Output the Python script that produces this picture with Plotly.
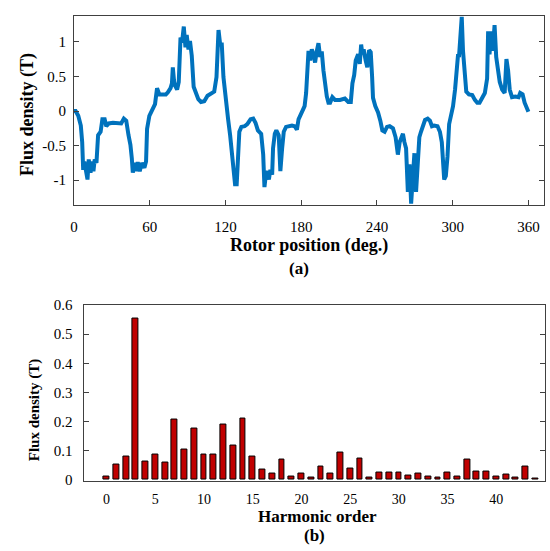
import plotly.graph_objects as go

W, H = 550, 551

# (a) air-gap flux density versus rotor position
rotor_deg = [
    0, 1.3, 3.4, 5.4, 6.5, 7.3, 8.2, 9.9, 10.7, 11.7, 13.1, 14.4, 15.4, 16.4, 17.8,
    19.1, 21.1, 22.5, 24.3, 25.6, 27.5, 30.9, 34.8, 37.4, 39.5, 41.4, 43.2, 44.7,
    45.8, 46.6, 47.9, 49.2, 50.5, 52.1, 53.7, 55.8, 57.1, 57.9, 59.7, 62.4, 64.2,
    65.8, 67.6, 70.2, 72.8, 74.4, 76.5, 77.6, 78.3, 79.2, 79.7, 81.7, 82.5, 83.0,
    84.4, 85.6, 87.0, 88.3, 89.3, 90.7, 91.9, 93.3, 94.8, 96.6, 98.5, 100.6, 103.2,
    105.8, 108.5, 111.1, 112.9, 113.7, 114.5, 115.8, 117.1, 118.4, 120.2, 122.1,
    123.7, 125.0, 126.3, 127.6, 128.9, 130.0, 131.0, 132.6, 135.2, 137.3, 139.9,
    142.0, 143.8, 145.7, 148.3, 149.9, 150.9, 152.2, 152.8, 154.4, 155.6, 157.0,
    157.7, 159.1, 160.3, 162.2, 163.5, 164.9, 166.2, 168.0, 170.1, 172.7, 174.8,
    176.6, 177.9, 180.0, 182.7, 183.9, 185.3, 185.8, 187.1, 188.4, 189.7, 191.0,
    192.4, 193.7, 195.0, 196.3, 197.6, 199.0, 200.3, 201.6, 202.9, 204.7, 206.8,
    210.7, 214.6, 217.3, 219.3, 220.6, 222.0, 223.2, 225.1, 226.4, 227.5, 228.5,
    229.5, 231.1, 232.4, 233.8, 235.1, 236.2, 236.9, 238.7, 240.9, 242.7, 244.3,
    246.1, 248.0, 250.1, 252.7, 254.8, 256.6, 258.0, 259.2, 260.6, 261.8, 263.1,
    264.5, 265.8, 267.1, 268.4, 269.7, 271.0, 272.3, 273.6, 274.9, 276.2, 278.1,
    280.2, 282.0, 283.6, 285.4, 288.0, 289.9, 291.4, 292.5, 293.3, 294.6, 295.9,
    297.2, 299.0, 300.3, 301.9, 303.2, 304.3, 305.0, 306.4, 307.2, 308.2, 309.5,
    310.8, 312.9, 315.5, 317.6, 319.5, 321.3, 323.4, 325.5, 327.3, 328.1, 329.2,
    330.5, 331.8, 333.2, 334.5, 336.0, 337.3, 339.2, 341.2, 342.6, 343.9, 345.2,
    347.0, 349.6, 352.2, 353.5, 355.4, 357.0, 358.8, 360.0,
]
flux_T = [
    0.00, 0.00, -0.07, -0.21, -0.45, -0.85, -0.73, -0.87, -0.99, -0.70, -0.89, -0.73,
    -0.87, -0.70, -0.75, -0.35, -0.30, -0.12, -0.12, -0.22, -0.18, -0.17, -0.17,
    -0.18, -0.11, -0.14, -0.35, -0.49, -0.68, -0.89, -0.75, -0.87, -0.74, -0.87,
    -0.75, -0.82, -0.73, -0.26, -0.07, 0.05, 0.10, 0.33, 0.24, 0.24, 0.24, 0.27,
    0.33, 0.40, 0.63, 0.45, 0.38, 0.31, 0.38, 0.42, 1.06, 0.99, 1.22, 0.92, 1.10,
    0.89, 1.01, 0.80, 0.35, 0.26, 0.17, 0.13, 0.14, 0.22, 0.25, 0.28, 0.49, 0.87,
    1.17, 0.96, 0.96, 0.49, 0.12, -0.12, -0.35, -0.63, -0.94, -1.06, -1.06, -0.54,
    -0.30, -0.23, -0.22, -0.19, -0.12, -0.11, -0.17, -0.28, -0.33, -0.63, -1.10,
    -0.89, -0.87, -0.99, -0.85, -0.92, -0.54, -0.33, -0.28, -0.35, -0.87, -0.54,
    -0.30, -0.23, -0.22, -0.21, -0.22, -0.27, -0.12, -0.02, 0.07, 0.26, 0.59, 0.87,
    0.73, 0.89, 0.82, 0.70, 0.87, 0.98, 0.78, 0.86, 0.59, 0.33, 0.21, 0.12, 0.12,
    0.20, 0.16, 0.16, 0.18, 0.13, 0.13, 0.40, 0.52, 0.73, 0.82, 0.68, 0.96, 0.82,
    0.89, 0.73, 0.63, 0.88, 0.85, 0.49, 0.19, 0.07, -0.02, -0.14, -0.28, -0.30,
    -0.23, -0.22, -0.25, -0.38, -0.63, -0.45, -0.38, -0.33, -0.45, -0.54, -1.17,
    -0.77, -1.34, -0.92, -0.61, -1.17, -0.63, -0.38, -0.30, -0.22, -0.13, -0.11,
    -0.14, -0.22, -0.21, -0.22, -0.30, -0.45, -0.77, -0.99, -0.94, -0.66, -0.19,
    -0.07, 0.07, 0.31, 0.54, 0.82, 0.78, 1.20, 1.36, 0.87, 0.45, 0.28, 0.24, 0.23,
    0.16, 0.12, 0.12, 0.20, 0.26, 0.47, 1.15, 0.82, 1.15, 0.87, 1.24, 0.78, 0.59,
    0.42, 0.31, 0.26, 0.75, 0.59, 0.31, 0.20, 0.21, 0.20, 0.26, 0.24, 0.12, 0.05,
    -0.01,
]

# (b) harmonic spectrum of the flux density
harmonic_order = list(range(0, 45))
harmonic_amp = [
    0.011, 0.054, 0.080, 0.553, 0.061, 0.086, 0.058, 0.207, 0.105, 0.177,
    0.085, 0.087, 0.191, 0.118, 0.210, 0.080, 0.035, 0.022, 0.070, 0.011,
    0.022, 0.006, 0.047, 0.022, 0.095, 0.037, 0.073, 0.007, 0.025, 0.025,
    0.026, 0.016, 0.020, 0.010, 0.009, 0.026, 0.010, 0.069, 0.027, 0.030,
    0.011, 0.017, 0.006, 0.046, 0.004,
]

pos_ticks = [0, 60, 120, 180, 240, 300, 360]
flux_ticks = [-1, -0.5, 0, 0.5, 1]
flux_tick_text = ["-1", "-0.5", "0", "0.5", "1"]
order_ticks = [0, 5, 10, 15, 20, 25, 30, 35, 40]
amp_ticks = [0, 0.1, 0.2, 0.3, 0.4, 0.5, 0.6]

SERIF = "Liberation Serif"


def fx(px):
    return px / W


def fy(py):
    return 1 - py / H


fig = go.Figure()
fig.add_trace(go.Scatter(
    x=rotor_deg, y=flux_T, mode="lines",
    line=dict(color="#0072BD", width=4),
    xaxis="x", yaxis="y", showlegend=False,
))
fig.add_trace(go.Bar(
    x=harmonic_order, y=harmonic_amp, width=0.6,
    marker=dict(color="#C00000", line=dict(color="#000000", width=1)),
    xaxis="x2", yaxis="y2", showlegend=False,
))

axis_common = dict(
    showgrid=False, zeroline=False, showline=True, linecolor="#404040",
    linewidth=1, tickcolor="#404040", ticklen=5,
)
tick15 = dict(family=SERIF, size=15, color="#000000")
tick14 = dict(family=SERIF, size=14, color="#000000")

fig.update_layout(
    width=W, height=H,
    margin=dict(l=0, r=0, t=0, b=0),
    paper_bgcolor="white", plot_bgcolor="white",
    bargap=0,
    xaxis=dict(
        domain=[fx(70.5), fx(544)], anchor="y", range=[0, 372.4],
        tickvals=pos_ticks, ticks="inside", mirror=True,
        ticklabelstandoff=8, tickfont=tick15, **axis_common,
    ),
    yaxis=dict(
        domain=[fy(203), fy(9)], anchor="x", range=[-1.356, 1.376],
        tickvals=flux_ticks, ticktext=flux_tick_text, ticks="inside",
        mirror="ticks", ticklabelstandoff=4, tickfont=tick15, **axis_common,
    ),
    xaxis2=dict(
        domain=[fx(81), fx(545)], anchor="y2", range=[-2.27, 45.0],
        tickvals=order_ticks, ticks="", mirror=True,
        ticklabelstandoff=6, tickfont=tick14, **axis_common,
    ),
    yaxis2=dict(
        domain=[fy(486), fy(305.3)], anchor="x2", range=[-0.003, 0.602],
        tickvals=amp_ticks, ticks="inside", mirror="ticks",
        ticklabelstandoff=8, tickfont=tick15, **axis_common,
    ),
)

bold = dict(family=SERIF, color="#000000", weight="bold")
labels = [
    ("Rotor position (deg.)", 307, 245, 18, 0),
    ("(a)", 297, 268, 17, 0),
    ("Harmonic order", 316, 523, 17, 0),
    ("(b)", 313, 542, 17, 0),
    ("Flux density (T)", 23, 110, 18, -90),
    ("Flux density (T)", 31, 413, 15, -90),
]
for text, x, y, size, angle in labels:
    fig.add_annotation(
        text=text, x=fx(x), y=fy(y), xref="paper", yref="paper",
        showarrow=False, textangle=angle, xanchor="center", yanchor="middle",
        font=dict(size=size, **bold),
    )

fig.write_html("out.html")
